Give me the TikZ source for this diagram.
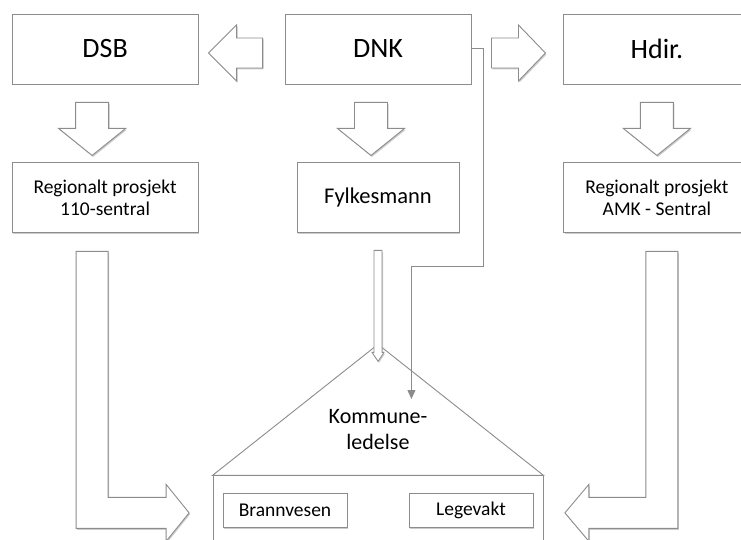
\documentclass[tikz,border=0pt]{standalone}
\usepackage{fontspec}
\setmainfont{Carlito}
\usepackage{tikz}
\usetikzlibrary{calc,positioning,arrows.meta,shadows}
\definecolor{linegray}{RGB}{140,140,140}
\tikzset{box/.style={draw=linegray,fill=white,line width=0.9pt,minimum width=186,minimum
height=70,inner sep=0pt,align=center,text=black,drop shadow={shadow xshift=1pt,shadow
yshift=-1.5pt,fill=black!40,opacity=.5}},topbox/.style={box,font=\fontsize{28}{32}\selectfont},
midbox/.style={box,font=\fontsize{19.5}{22}\selectfont},smallbox/.style={box,minimum
width=124,minimum height=34,font=\fontsize{19.5}{22}\selectfont},blockarrow/.style={draw=linegray,
fill=white,line width=0.9pt,line join=miter,drop shadow={shadow xshift=1pt,shadow
yshift=-1.5pt,fill=black!40,opacity=.5}},link/.style={draw=linegray,line width=1pt,
-{Triangle[length=9pt,width=8pt]}}}

\begin{document}
\begin{tikzpicture}[x=1pt,y=-1pt]
		\useasboundingbox (0,0) rectangle (741,540);
		\clip (0,0) rectangle (741,540);
		% top row
		\node[topbox] (dnk) at (378,49) {DNK};
		\node[topbox,left=86pt of dnk] (dsb) {DSB};
		\node[topbox,right=92pt of dnk] (hdir) {Hdir.};
		% second row
		\node[midbox,below=78pt of dsb] (reg110) {Regionalt prosjekt\\110-sentral};
		\node[box,minimum width=162,below=78pt of dnk,font=\fontsize{22.5}{26}\selectfont] (fylke) {Fylkesmann};
		\node[midbox,below=78pt of hdir] (regamk) {Regionalt prosjekt\\AMK - Sentral};
		% kommune
		\coordinate (apex) at ($(fylke.south)+(0,111)$);
		\node[box,minimum width=330,minimum height=100,anchor=north] (kbox) at ($(apex)+(0,131)$) {};
		\draw[draw=linegray,line width=0.9pt,fill=white] (kbox.north west) -- (apex) -- (kbox.north east) -- cycle;
		\node[font=\fontsize{22}{26}\selectfont,align=center] (kommune) at ($(apex)+(0,85)$) {Kommune-\\ledelse};
		\node[smallbox,below right=18pt and 10pt of kbox.north west,anchor=north west] (brann) {Brannvesen};
		\node[smallbox,below left=18pt and 10pt of kbox.north east,anchor=north east] (legevakt) {Legevakt};
		% block arrows
		\draw[blockarrow] ($(dnk.west)+(-22,-11)$) -- ++(-26,0) -- ++(0,-13) -- ++(-28,28) -- ++(28,28)
			-- ++(0,-13) -- ++(26,0) -- cycle;
		\draw[blockarrow] ($(dnk.east)+(20,-11)$) -- ++(27,0) -- ++(0,-13) -- ++(27,28) -- ++(-27,28)
			-- ++(0,-13) -- ++(-27,0) -- cycle;
		\foreach \n/\dx in {dsb/-13,dnk/-7,hdir/0}
		\draw[blockarrow] ($(\n.south)+(\dx-16.5,18)$) -- ++(33,0) -- ++(0,26) -- ++(17,0)
			-- ++(-33.5,27) -- ++(-33.5,-27) -- ++(17,0) -- cycle;
		\draw[blockarrow] ($(reg110.south)+(-29,18)$) -- ++(32,0) -- ++(0,246) -- ++(58,0) -- ++(0,-13)
			-- ++(23,28.5) -- ++(-23,28.5) -- ++(0,-13) -- ++(-90,0) -- cycle;
		\draw[blockarrow] ($(regamk.south)+(-11,18)$) -- ++(32,0) -- ++(0,277) -- ++(-89,0) -- ++(0,13)
			-- ++(-24,-28.5) -- ++(24,-28.5) -- ++(0,13) -- ++(57,0) -- cycle;
		\draw[blockarrow,line width=0.8pt,drop shadow={opacity=0}] ($(fylke.south)+(-4,17)$) -- ++(8,0) -- ++(0,102) -- ++(2,0)
			-- ++(-6,9) -- ++(-6,-9) -- ++(2,0) -- cycle;
		% dnk to kommune
		\coordinate (bend) at ($(dnk.east)+(-60,217)$);
		\coordinate (kin) at ($(bend)+(0,133)$);
		\draw[link] (dnk.east) -- ++(12,0) |- (bend) -- (kin);
	\end{tikzpicture}
\end{document}
